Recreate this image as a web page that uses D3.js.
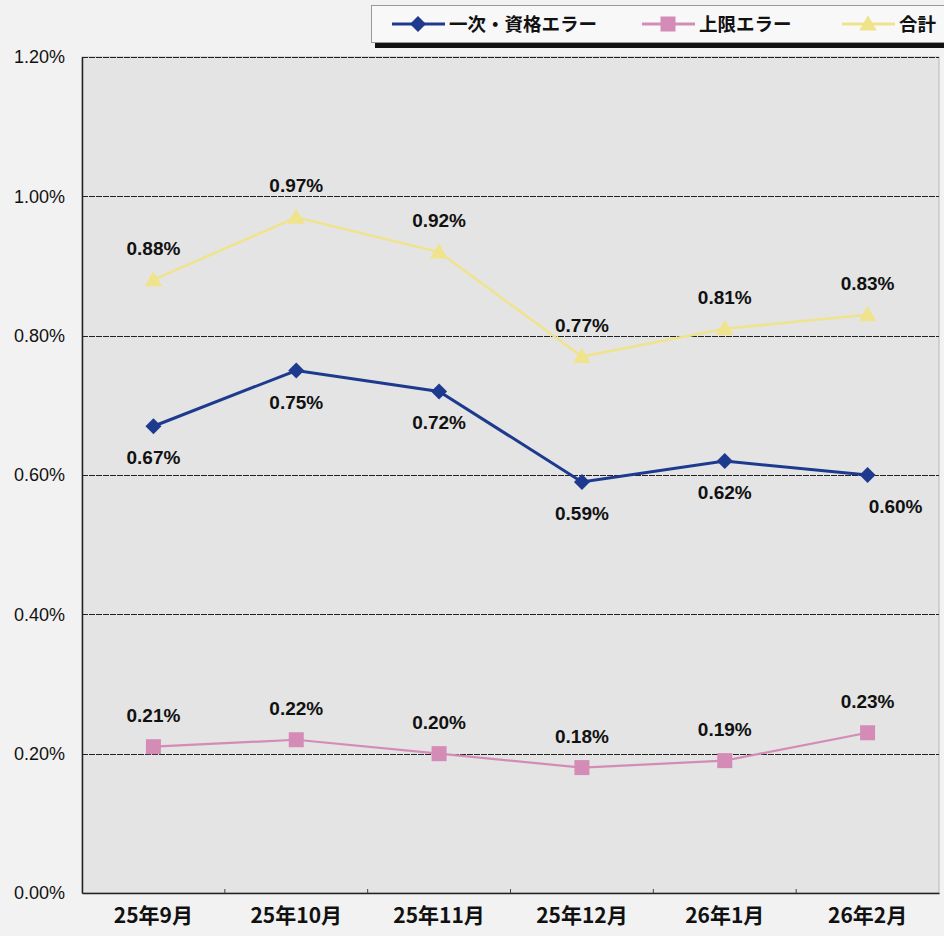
<!DOCTYPE html>
<html><head><meta charset="utf-8">
<script src="https://cdn.jsdelivr.net/npm/d3@7"></script>
<style>
html,body{margin:0;padding:0;background:#f2f2f2;}
svg{display:block;}
</style></head>
<body>
<svg id="chart" width="944" height="936"></svg>
<script>
const categories = ["25年9月","25年10月","25年11月","25年12月","26年1月","26年2月"];
const primaryErr = [0.67,0.75,0.72,0.59,0.62,0.60];
const upperErr   = [0.21,0.22,0.20,0.18,0.19,0.23];
const totalErr   = [0.88,0.97,0.92,0.77,0.81,0.83];
const yTicks = [0,0.2,0.4,0.6,0.8,1.0,1.2];
const seriesNames = ["一次・資格エラー","上限エラー","合計"];

const series = [
  {name:seriesNames[0], values:primaryErr, color:"#1e3a8f", marker:"diamond", labelPos:"below", lw:3},
  {name:seriesNames[1], values:upperErr,   color:"#d48bb6", marker:"square",  labelPos:"above", lw:2.2},
  {name:seriesNames[2], values:totalErr,   color:"#efe38c", marker:"triangle",labelPos:"above", lw:2.5}
];

const svg = d3.select("#chart");
const W=944,H=936;
const m={left:82,right:5,top:57,bottom:43};
const x = d3.scaleBand().domain(categories).range([m.left, W-m.right]).padding(0);
const y = d3.scaleLinear().domain([0,1.2]).range([H-m.bottom, m.top]);

svg.append("rect").attr("width",W).attr("height",H).attr("fill","#f2f2f2");
// plot area
svg.append("rect").attr("x",m.left).attr("y",m.top)
  .attr("width",W-m.right-m.left).attr("height",y(0)-m.top)
  .attr("fill","#e4e4e4").attr("stroke","#b8b8b8").attr("stroke-width",1);

// gridlines (including top border)
svg.append("g").selectAll("line").data(yTicks.filter(d=>d>0))
  .join("line")
  .attr("x1",m.left).attr("x2",W-m.right)
  .attr("y1",d=>Math.round(y(d))+0.5).attr("y2",d=>Math.round(y(d))+0.5)
  .attr("stroke","#222").attr("stroke-width",1).attr("stroke-dasharray","6,1");

// y axis
const yAxis = d3.axisLeft(y).tickValues(yTicks).tickFormat(d=>d.toFixed(2)+"%").tickSize(0).tickPadding(17);
const yg = svg.append("g").attr("transform",`translate(${m.left},0)`).call(yAxis);
yg.select(".domain").attr("stroke","#222").attr("stroke-width",1.5);
yg.selectAll("text").attr("font-family","'Liberation Sans',Arial,sans-serif").attr("font-size",18).attr("fill","#111");

// x axis
const xAxis = d3.axisBottom(x).tickSize(0).tickPadding(15);
const xg = svg.append("g").attr("transform",`translate(0,${y(0)})`).call(xAxis);
xg.select(".domain").attr("stroke","#222").attr("stroke-width",1.5);
xg.selectAll("text").attr("font-family","'Noto Sans CJK JP',sans-serif").attr("font-size",21).attr("font-weight",700).attr("fill","#111");
// small boundary ticks
xg.append("g").selectAll("line").data(categories.slice(1)).join("line")
  .attr("x1",d=>x(d)).attr("x2",d=>x(d)).attr("y1",-4).attr("y2",0).attr("stroke","#444");

const line = d3.line().x((d,i)=>x(categories[i])+x.bandwidth()/2).y(d=>y(d));

function diamond(s){return `M0,${-s}L${s},0L0,${s}L${-s},0Z`;}
function square(s){return `M${-s},${-s}H${s}V${s}H${-s}Z`;}
function triangle(s){return `M0,${-s*1.1}L${s*1.1},${s*0.8}L${-s*1.1},${s*0.8}Z`;}
const shapes = {diamond:()=>diamond(8), square:()=>square(7.5), triangle:()=>triangle(8)};

series.forEach(sr=>{
  const g = svg.append("g");
  g.append("path").datum(sr.values).attr("d",line).attr("fill","none")
   .attr("stroke",sr.color).attr("stroke-width",sr.lw);
  g.selectAll("path.mk").data(sr.values).join("path").attr("class","mk")
   .attr("d",shapes[sr.marker]())
   .attr("transform",(d,i)=>`translate(${x(categories[i])+x.bandwidth()/2},${y(d)})`)
   .attr("fill",sr.color);
  g.selectAll("text").data(sr.values).join("text")
   .attr("x",(d,i)=>x(categories[i])+x.bandwidth()/2 + (sr.marker==="diamond" && i===5 ? 28 : 0))
   .attr("y",d=> sr.labelPos==="above" ? y(d)-25 : y(d)+38)
   .attr("text-anchor","middle")
   .attr("font-family","'Liberation Sans',Arial,sans-serif").attr("font-weight",700).attr("font-size",19)
   .attr("fill","#111")
   .text(d=>d.toFixed(2)+"%");
});

// legend
const lg = svg.append("g");
lg.append("rect").attr("x",375).attr("y",42).attr("width",W-375).attr("height",6).attr("fill","#111");
lg.append("rect").attr("x",371.5).attr("y",5.5).attr("width",W-371).attr("height",37)
  .attr("fill","#f8f8f8").attr("stroke","#999").attr("stroke-width",1);
const legX = [392,642,842];
series.forEach((sr,i)=>{
  const gx = legX[i], cy=24;
  lg.append("line").attr("x1",gx).attr("x2",gx+53).attr("y1",cy).attr("y2",cy)
    .attr("stroke",sr.color).attr("stroke-width",3);
  lg.append("path").attr("d",shapes[sr.marker]()).attr("transform",`translate(${gx+26},${cy})`).attr("fill",sr.color);
  lg.append("text").attr("x",gx+57).attr("y",cy+7).attr("font-family","'Noto Sans CJK JP',sans-serif")
    .attr("font-size",18.5).attr("font-weight",700).attr("fill","#111").text(sr.name);
});
</script>
</body></html>
